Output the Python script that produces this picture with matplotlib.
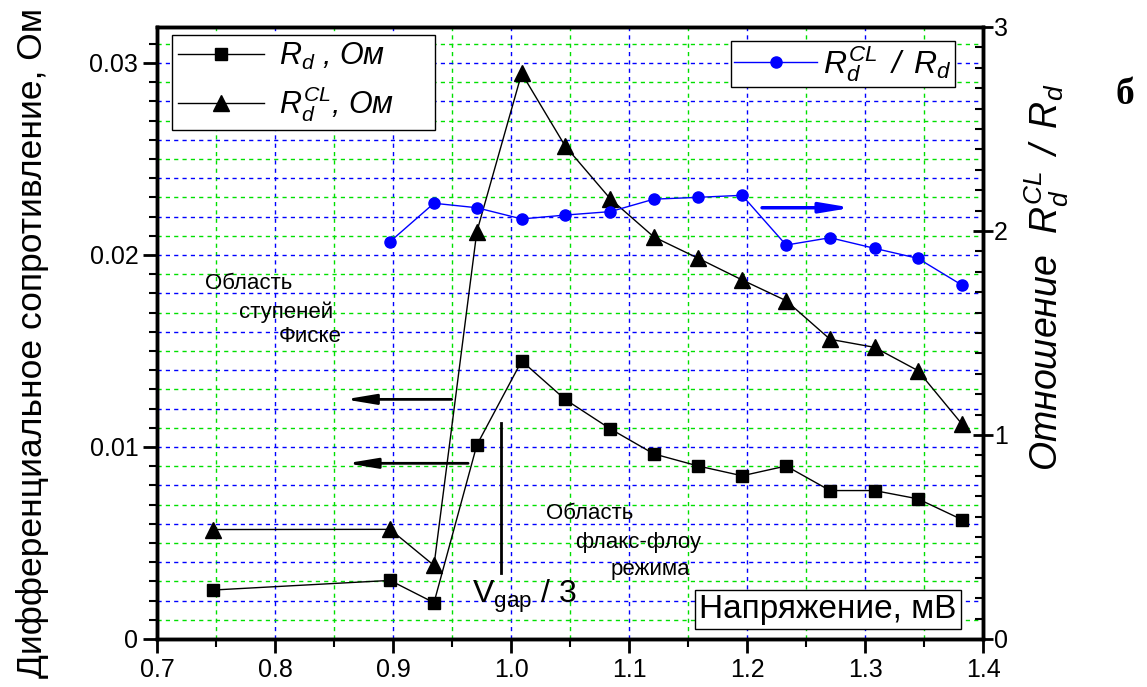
import numpy as np
import matplotlib
matplotlib.use('Agg')
import matplotlib.pyplot as plt

plt.rcParams['font.family'] = ['Liberation Sans', 'DejaVu Sans']
plt.rcParams['mathtext.fontset'] = 'custom'
plt.rcParams['mathtext.rm'] = 'Liberation Sans'
plt.rcParams['mathtext.it'] = 'Liberation Sans:italic'

# напряжение, мВ
volt = [0.7477, 0.8975, 0.9347, 0.9710, 1.0090, 1.0458, 1.0842, 1.1210,
        1.1585, 1.1958, 1.2331, 1.2703, 1.3080, 1.3447, 1.3820]
# R_d, Ом
rd = [0.00255, 0.00305, 0.00189, 0.0101, 0.01448, 0.01248, 0.01094, 0.00964,
      0.00901, 0.00850, 0.00901, 0.00773, 0.00773, 0.00730, 0.00622]
# R_d^CL, Ом
rd_cl = [0.00570, 0.00571, 0.00383, 0.02121, 0.02946, 0.02568, 0.02292, 0.02094,
         0.01983, 0.01870, 0.01762, 0.01561, 0.01519, 0.01398, 0.01120]
# отношение R_d^CL / R_d (с 0.9 мВ)
volt_ratio = volt[1:]
ratio = [1.948, 2.136, 2.114, 2.059, 2.078, 2.095, 2.156, 2.165, 2.175,
         1.931, 1.967, 1.915, 1.866, 1.735]

fig = plt.figure(figsize=(11.47, 6.87), dpi=100)
ax = fig.add_axes([0.1369, 0.0699, 0.7202, 0.8908])
ax2 = ax.twinx()

# сетка
for v in np.arange(0.75, 1.36, 0.05):
    col = '#0000ff' if round(v * 100) % 10 == 0 else '#00e000'
    ax.axvline(v, color=col, lw=1, ls=(0, (3, 3)), zorder=0)
for h in np.arange(0.001, 0.0315, 0.001):
    col = '#0000ff' if round(h * 1000) % 2 == 0 else '#00e000'
    ax.axhline(h, color=col, lw=1, ls=(0, (3, 3)), zorder=0)

ax.plot(volt, rd, color='black', lw=1, marker='s', ms=8, label=r'$R_d$ , Ом')
ax.plot(volt, rd_cl, color='black', lw=1, marker='^', ms=11,
        label=r'$R_d^{CL}$, Ом     ')
ax2.plot(volt_ratio, ratio, color='#0000ff', lw=1, marker='o', ms=8,
         label=r'$R_d^{CL}$$\,$ /$\,$ $R_d$')

ax.set_xlim(0.7, 1.4)
ax.set_ylim(0, 0.031875)
ax2.set_ylim(0, 3)

ax.set_xticks(np.arange(0.7, 1.41, 0.1))
ax.set_xticklabels(['0.7', '0.8', '0.9', '1.0', '1.1', '1.2', '1.3', '1.4'])
ax.set_xticks(np.arange(0.75, 1.4, 0.1), minor=True)
ax.set_yticks([0, 0.01, 0.02, 0.03])
ax.set_yticklabels(['0', '0.01', '0.02', '0.03'])
ax.set_yticks(np.arange(0, 0.0319, 0.001), minor=True)
ax2.set_yticks([0, 1, 2, 3])
ax2.set_yticks(np.arange(0, 3.01, 0.1), minor=True)

ax.tick_params(axis='both', which='major', direction='out', length=10, width=2,
               labelsize=18, top=False)
ax.tick_params(axis='both', which='minor', direction='out', length=6, width=1.5,
               top=False)
ax2.tick_params(axis='y', which='major', direction='inout', length=14, width=2,
                labelsize=18, pad=1)
ax2.tick_params(axis='y', which='minor', direction='in', length=6, width=1.5)

for sp in ax.spines.values():
    sp.set_linewidth(2.5)
for sp in ax2.spines.values():
    sp.set_linewidth(2.5)

leg1 = ax.legend(loc='upper left', bbox_to_anchor=(0.018, 0.987), borderaxespad=0,
                 fancybox=False, edgecolor='black', framealpha=1,
                 prop={'size': 22, 'style': 'italic'},
                 handlelength=2.8, labelspacing=0.4, borderpad=0.2, handletextpad=0.5)
leg1.get_frame().set_linewidth(1)
leg2 = ax2.legend(loc='upper right', bbox_to_anchor=(0.966, 0.977), borderaxespad=0,
                  fancybox=False, edgecolor='black', framealpha=1,
                  prop={'size': 23, 'style': 'italic'},
                  handlelength=2.6, borderpad=0.1, handletextpad=0.2)
leg2.get_frame().set_linewidth(1)

# стрелки и отметка V_gap/3
arrow = dict(arrowstyle='-|>,head_length=0.9,head_width=0.15', lw=2, color='black',
             mutation_scale=20, shrinkA=0, shrinkB=0)
ax.annotate('', xy=(0.8593, 0.01248), xytext=(0.9497, 0.01248), arrowprops=arrow)
ax.annotate('', xy=(0.8608, 0.00915), xytext=(0.9636, 0.00915), arrowprops=arrow)
ax.plot([0.9913, 0.9913], [0.00345, 0.01127], color='black', lw=2)
ax2.annotate('', xy=(1.2887, 2.114), xytext=(1.2127, 2.114),
             arrowprops=dict(arrowstyle='-|>,head_length=0.9,head_width=0.15', lw=2.5,
                             color='#0000ff', mutation_scale=20, shrinkA=0, shrinkB=0))

ax.text(0.7775, 0.01854, 'Область', fontsize=16, ha='center', va='center')
ax.text(0.8097, 0.01703, 'ступеней', fontsize=16, ha='center', va='center')
ax.text(0.8300, 0.01573, 'Фиске', fontsize=16, ha='center', va='center')
ax.text(1.0665, 0.00656, 'Область', fontsize=16, ha='center', va='center')
ax.text(1.1080, 0.00503, 'флакс-флоу', fontsize=16, ha='center', va='center')
ax.text(1.1178, 0.00362, 'режима', fontsize=16, ha='center', va='center')
ax.text(0.9667, 0.00188, r'V$_{\mathrm{gap}}$ / 3', fontsize=23, ha='left',
        va='baseline')
ax.text(1.2686, 0.00156, 'Напряжение, мВ', fontsize=24, ha='center', va='center',
        bbox=dict(boxstyle='square,pad=0.12', fc='white', ec='black', lw=1), zorder=5)

fig.text(0.028, 0.5, 'Дифференциальное сопротивление, Ом', rotation=90,
         fontsize=25.5, ha='center', va='center')
fig.text(0.913, 0.597, r'Отношение  $R_d^{CL}$$\,$ /$\,$ $R_d$', rotation=90,
         fontsize=27, style='italic', ha='center', va='center')
fig.text(0.981, 0.862, 'б', fontsize=27, fontweight='bold', ha='center', va='center',
         family='Liberation Serif')

fig.savefig('out.png', dpi=100)
